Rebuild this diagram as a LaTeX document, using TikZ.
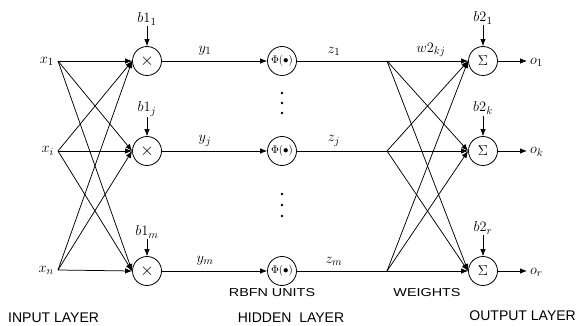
\documentclass[tikz,border=0pt]{standalone}
\usepackage{fontspec}
\setmainfont{Liberation Serif}
\newfontfamily\labsans{Liberation Sans}
\usetikzlibrary{arrows.meta}
\begin{document}
\begin{tikzpicture}[x=1pt,y=-1pt,
  unit/.style={draw,circle,minimum size=29pt,inner sep=0pt,line width=0.8pt},
  conn/.style={line width=0.75pt},
  arr/.style={conn,-{Latex[length=7pt,width=5.5pt]}},
  mlab/.style={font=\fontsize{15}{17}\selectfont,inner sep=1pt},
  blab/.style={font=\fontsize{15}{17}\selectfont,inner sep=1pt},
  laylab/.style={font=\labsans\fontsize{14}{16}\selectfont,inner sep=0pt},
  smalllab/.style={font=\labsans\fontsize{11.5}{13}\selectfont,inner sep=0pt,xscale=1.25},
  dot/.style={circle,fill=black,inner sep=0pt,minimum size=2.8pt}]
\useasboundingbox (0,0) rectangle (584,326);
% input points
\coordinate (xa) at (58,61);
\coordinate (xb) at (58,151);
\coordinate (xc) at (58,270);
\node[mlab,anchor=east] (lxa) at (55,61) {$x_1$};
\node[mlab,anchor=east] (lxb) at (55,151) {$x_i$};
\node[mlab,anchor=east] (lxc) at (55,270) {$x_n$};
% multiplication units
\node[unit] (m1) at (147,61) {\fontsize{18}{18}\selectfont$\times$};
\node[unit] (m2) at (147,151) {\fontsize{18}{18}\selectfont$\times$};
\node[unit] (m3) at (147,271) {\fontsize{18}{18}\selectfont$\times$};
% RBF units
\node[unit] (p1) at (282,61) {\fontsize{11}{11}\selectfont$\Phi(\bullet)$};
\node[unit] (p2) at (282,151) {\fontsize{11}{11}\selectfont$\Phi(\bullet)$};
\node[unit] (p3) at (282,271) {\fontsize{11}{11}\selectfont$\Phi(\bullet)$};
% sum units
\node[unit] (s1) at (483,61) {\fontsize{15}{15}\selectfont$\Sigma$};
\node[unit] (s2) at (483,151) {\fontsize{15}{15}\selectfont$\Sigma$};
\node[unit] (s3) at (483,271) {\fontsize{15}{15}\selectfont$\Sigma$};
% fan points
\coordinate (za) at (387,61);
\coordinate (zb) at (387,151);
\coordinate (zc) at (387,271);
% input fan
\foreach \i in {xa,xb,xc}{\foreach \j in {m1,m2,m3}{\draw[arr] (\i) -- (\j.west);}}
% hidden fan
\foreach \i in {za,zb,zc}{\foreach \j in {s1,s2,s3}{\draw[arr] (\i) -- (\j.west);}}
% horizontal
\draw[arr] (m1) -- (p1); \draw[arr] (m2) -- (p2); \draw[arr] (m3) -- (p3);
\draw[conn] (p1) -- (za); \draw[conn] (p2) -- (zb); \draw[conn] (p3) -- (zc);
% outputs
\coordinate (oa) at (527,61);
\coordinate (ob) at (527,151);
\coordinate (oc) at (527,271);
\draw[arr] (s1) -- (oa); \draw[arr] (s2) -- (ob); \draw[arr] (s3) -- (oc);
\node[mlab,anchor=west] (loa) at (529,62) {$o_1$};
\node[mlab,anchor=west] (lob) at (529,152) {$o_k$};
\node[mlab,anchor=west] (loc) at (529,272) {$o_r$};
% biases
\node[blab] (b11) at (147,19) {$b1_1$};
\node[blab] (b1j) at (147,109) {$b1_j$};
\node[blab] (b1m) at (147,232) {$b1_m$};
\node[blab] (b21) at (483,18) {$b2_1$};
\node[blab] (b2k) at (483,108) {$b2_k$};
\node[blab] (b2r) at (483,228) {$b2_r$};
\draw[arr] (b11) -- (m1); \draw[arr] (b1j) -- (m2); \draw[arr] (b1m) -- (m3);
\draw[arr] (b21) -- (s1); \draw[arr] (b2k) -- (s2); \draw[arr] (b2r) -- (s3);
% signal labels
\node[mlab] (ly1) at (205,51) {$y_1$};
\node[mlab] (lyj) at (205,141) {$y_j$};
\node[mlab] (lym) at (205,261) {$y_m$};
\node[mlab] (lz1) at (334,51) {$z_1$};
\node[mlab] (lzj) at (334,141) {$z_j$};
\node[mlab] (lzm) at (334,261) {$z_m$};
\node[mlab] (lw) at (431,50) {$w2_{kj}$};
% dots
\node[dot] (d1) at (282,93) {}; \node[dot] (d2) at (282,103) {}; \node[dot] (d3) at (282,113) {};
\node[dot] (d4) at (282,194) {}; \node[dot] (d5) at (282,205) {}; \node[dot] (d6) at (282,216) {};
% layer labels
\node[laylab,anchor=west] (lin) at (8,318) {INPUT LAYER};
\node[laylab] (lhid) at (291,318) {HIDDEN\ \ LAYER};
\node[laylab,anchor=east] (lout) at (576,316) {OUTPUT LAYER};
\node[smalllab] (lrbf) at (272,293) {RBFN UNITS};
\node[smalllab] (lwt) at (427,293) {WEIGHTS};
\end{tikzpicture}
\end{document}
